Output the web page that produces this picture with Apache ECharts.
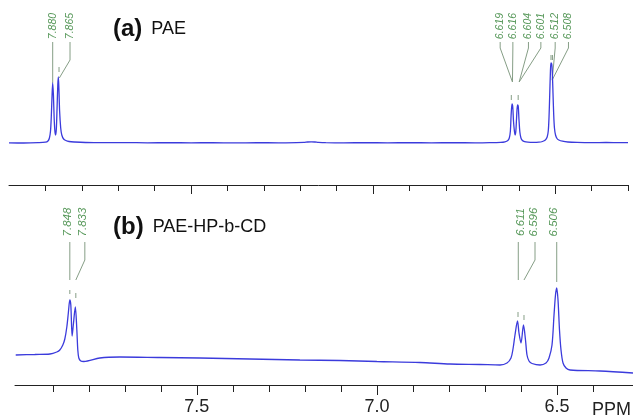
<!DOCTYPE html>
<html>
<head>
<meta charset="utf-8">
<script src="https://cdn.jsdelivr.net/npm/echarts@6/dist/echarts.min.js"></script>
<style>html,body{margin:0;padding:0;background:#fff}#c{width:633px;height:420px}</style>
</head>
<body>
<div id="c"></div>
<script>
// ---- Spectrum (a) PAE : chemical shift (ppm) and intensity ----
var topPpm = [8.000,7.960,7.920,7.900,7.893,7.889,7.886,7.884,7.882,7.880,7.878,7.876,7.874,7.872,7.870,7.868,7.866,7.8645,7.863,7.861,7.858,7.855,7.850,7.844,7.835,7.820,7.790,7.740,7.680,7.620,7.560,7.500,7.440,7.380,7.320,7.260,7.210,7.190,7.180,7.170,7.160,7.150,7.130,7.080,7.020,6.960,6.900,6.840,6.780,6.720,6.680,6.650,6.638,6.630,6.626,6.623,6.621,6.6185,6.6165,6.6145,6.612,6.610,6.608,6.606,6.6035,6.6015,6.5995,6.597,6.594,6.590,6.584,6.575,6.560,6.545,6.535,6.527,6.522,6.519,6.517,6.515,6.513,6.5115,6.5095,6.508,6.506,6.504,6.502,6.499,6.495,6.490,6.480,6.465,6.440,6.400,6.360,6.320,6.300];
var topInt = [0.2,0.0,0.3,0.8,2,5,12,25,45,60,48,25,12,8,14,35,58,66,55,32,15,8,4,2.5,1.5,1,0.5,0.3,0.4,0.2,0.3,0.2,0.3,0.1,0.3,0.2,0.4,0.6,1.0,1.2,1.0,0.6,0.3,0.2,0.3,0.2,0.3,0.2,0.3,0.2,0.3,0.6,1.2,2.5,5,12,28,39,36,22,12,8,12,25,38,37,24,11,5,2.5,1.3,0.8,0.6,0.8,1.5,3,6,12,25,48,72,80,79,72,50,28,15,8,4.5,3,1.8,1.0,0.6,0.4,0.5,0.3,0.3];

// ---- Spectrum (b) PAE-HP-b-CD ----
var botPpm = [8.003,7.950,7.908,7.889,7.8806,7.8722,7.8667,7.8611,7.8569,7.8528,7.850,7.8464,7.8431,7.8375,7.8333,7.8306,7.8278,7.8222,7.8139,7.7694,7.7139,7.6028,7.4917,7.3528,7.2139,7.1028,7.000,6.8806,6.7972,6.7139,6.6583,6.6389,6.6278,6.6222,6.6167,6.6097,6.6056,6.600,6.5931,6.5875,6.5833,6.5778,6.5694,6.5472,6.5306,6.5222,6.5139,6.5083,6.5042,6.5008,6.4972,6.4931,6.4889,6.4833,6.475,6.4639,6.3806,6.289];
var botInt = [30,30.5,31,33,35,40,46,58,72,85,80,49,60,78,55,35,27,24,23.5,27,28,27.5,27,26,25,24.5,23.5,22.5,21,20.5,20,22,27,36,50,64,52,42,60,45,30,24,21.5,20,22,27,40,70,90,97,85,55,35,22,17,15,14,12];

// ---- Axis ticks / labels ----
var minorTicksTop = [7.9,7.8,7.7,7.6,7.4,7.3,7.2,7.1,6.9,6.8,6.7,6.6,6.4,6.3];
var minorTicksBot = [7.9,7.8,7.7,7.6,7.4,7.3,7.2,7.1,6.9,6.8,6.7,6.6,6.4];
var majorTicks = [7.5,7.0,6.5];

// ---- Peak annotations ----
var topPeakLabels = ['7.880','7.865','6.619','6.616','6.604','6.601','6.512','6.508'];
var botPeakLabels = ['7.848','7.833','6.611','6.596','6.506'];

// annotation layout (label x in ppm, leader geometry)
var topLabelX  = [7.880,7.8324,6.6511,6.6162,6.5734,6.5393,6.5000,6.4635];
var topTargetX = [7.880,7.8618,6.6173,6.6173,6.5989,6.5989,6.5082,6.5082];
var topBendV   = [98,83,95,95,95,95,95,95];
var topEndV    = [60,65,61,61,61,61,63,63];
var topMarkX   = [7.8626,6.6205,6.6016,6.5115,6.5075];
var topMarkV   = [[71,76],[43,48],[43,48],[83,88],[83,88]];

var botLineX   = [7.8528,7.8111,6.6075,6.5611,6.5008];
var botTextX   = [7.8583,7.8167,6.6000,6.5639,6.5097];
var botTargetX = [7.8528,7.8361,6.6075,6.5917,6.5008];
var botBendV   = [105,125,105,125,103];
var botEndV    = [105,105,105,105,103];
var botMarkX   = [7.8528,7.8361,6.6083,6.5917];
var botMarkV   = [[91,95],[87,92],[68,73],[65,70]];

function zip(a,b){return a.map(function(v,i){return [v,b[i]];});}

var green = '#2a7d2e';
var leaderColor = '#869e86';
var font = 'Liberation Sans, Arial, sans-serif';

var topLeaders = topLabelX.map(function(x,i){
  return {coords:[[x,101],[x,topBendV[i]],[topTargetX[i],topEndV[i]]]};
});
topMarkX.forEach(function(x,i){ topLeaders.push({coords:[[x,topMarkV[i][0]],[x,topMarkV[i][1]]]}); });
var botLeaders = botLineX.map(function(x,i){
  return {coords:[[x,143],[x,botBendV[i]],[botTargetX[i],botEndV[i]]]};
});
botMarkX.forEach(function(x,i){ botLeaders.push({coords:[[x,botMarkV[i][0]],[x,botMarkV[i][1]]]}); });

var topLabelData = topLabelX.map(function(x,i){return [x,117,topPeakLabels[i]];});
var botLabelData = botTextX.map(function(x,i){return [x,163,botPeakLabels[i]];});

function xAx(grid,min,max,ticks,len,line,labels){
  return {
    gridIndex:grid,type:'value',min:min,max:max,inverse:true,position:'bottom',
    axisLine:{show:line,onZero:false,lineStyle:{color:'#222',width:1}},
    axisTick:{show:true,inside:false,length:len,customValues:ticks,lineStyle:{color:'#222',width:1}},
    axisLabel:labels?{show:true,customValues:majorTicks,margin:13,fontSize:18,color:'#222',fontFamily:font,
      formatter:function(v){return (+v).toFixed(1);}}:{show:false},
    splitLine:{show:false}
  };
}

var richT = {
  b:{fontSize:24,fontWeight:'bold',color:'#111',fontFamily:font},
  n:{fontSize:18,fontWeight:'normal',color:'#111',fontFamily:font,padding:[0,0,0,4]}
};

var chart = echarts.init(document.getElementById('c'),null,{renderer:'canvas'});
chart.setOption({
  animation:false,
  backgroundColor:'#fff',
  title:[
    {text:'{b|(a)} {n|PAE}',left:113,top:17,padding:0,textStyle:{fontWeight:'normal',rich:richT}},
    {text:'{b|(b)} {n|PAE-HP-b-CD}',left:113,top:215,padding:0,textStyle:{fontWeight:'normal',rich:richT}}
  ],
  graphic:[{type:'text',left:592,top:401,style:{text:'PPM',font:'18px '+font,fill:'#222'}}],
  grid:[
    {left:9,width:619,top:5,height:180},
    {left:15,width:618,top:205,height:180}
  ],
  xAxis:[
    xAx(0,6.3,8.0,minorTicksTop,6,true,false),
    xAx(0,6.3,8.0,majorTicks,9,false,false),
    xAx(1,6.289,8.005,minorTicksBot,7,true,false),
    xAx(1,6.289,8.005,majorTicks,10,false,true)
  ],
  yAxis:[
    {gridIndex:0,type:'value',min:-42,max:138,show:false},
    {gridIndex:1,type:'value',min:0,max:180,show:false}
  ],
  series:[
    {type:'lines',coordinateSystem:'cartesian2d',xAxisIndex:0,yAxisIndex:0,polyline:true,silent:true,
      lineStyle:{color:leaderColor,width:1,opacity:1},data:topLeaders,z:1},
    {type:'lines',coordinateSystem:'cartesian2d',xAxisIndex:2,yAxisIndex:1,polyline:true,silent:true,
      lineStyle:{color:leaderColor,width:1,opacity:1},data:botLeaders,z:1},
    {type:'line',xAxisIndex:0,yAxisIndex:0,data:zip(topPpm,topInt),symbol:'none',smooth:0.3,
      lineStyle:{color:'#3b3bdc',width:1.3},z:3},
    {type:'line',xAxisIndex:2,yAxisIndex:1,data:zip(botPpm,botInt),symbol:'none',smooth:0.3,
      lineStyle:{color:'#3b3bdc',width:1.3},z:3},
    {type:'scatter',xAxisIndex:0,yAxisIndex:0,data:topLabelData,symbolSize:0,silent:true,
      label:{show:true,position:'inside',rotate:90,fontSize:10.5,fontStyle:'italic',color:green,fontFamily:font,
        formatter:function(p){return p.value[2];}}},
    {type:'scatter',xAxisIndex:2,yAxisIndex:1,data:botLabelData,symbolSize:0,silent:true,
      label:{show:true,position:'inside',rotate:90,fontSize:11.5,fontStyle:'italic',color:green,fontFamily:font,
        formatter:function(p){return p.value[2];}}}
  ]
});
</script>
</body>
</html>
